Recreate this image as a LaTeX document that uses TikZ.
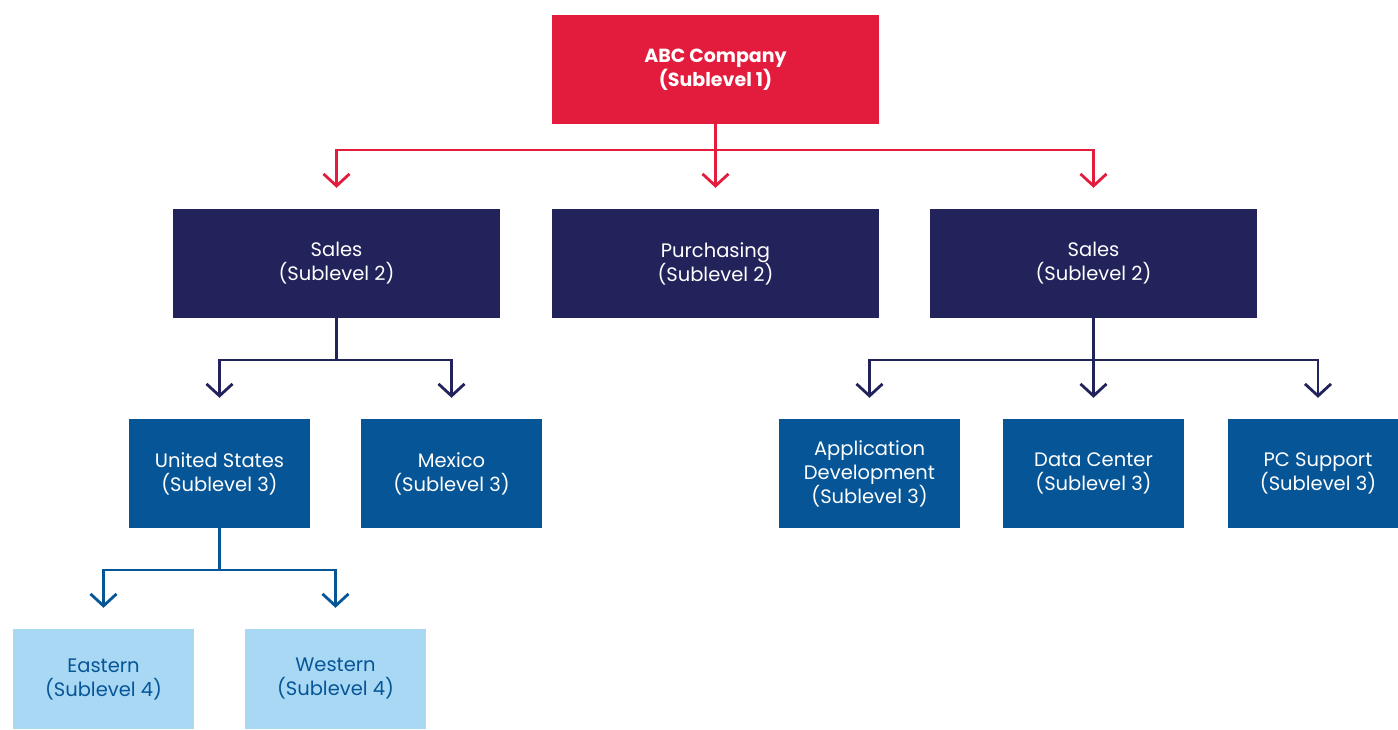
\documentclass[tikz,border=0pt]{standalone}
\usepackage{fontspec}
\setmainfont{Poppins}
\usetikzlibrary{arrows.meta}
\definecolor{topred}{HTML}{E31C3D}
\definecolor{navy}{HTML}{21235A}
\definecolor{midblue}{HTML}{065597}
\definecolor{lightblue}{HTML}{A8D8F4}
\begin{document}
\begin{tikzpicture}[x=1pt,y=-1pt,
  box/.style={minimum height=109pt, inner sep=0pt, align=center,
    font=\fontsize{19.5}{24}\selectfont},
  lvlone/.style={box, fill=topred, text=white, minimum width=327pt,
    font=\fontsize{19}{24}\selectfont\bfseries},
  lvltwo/.style={box, fill=navy, text=white, minimum width=327pt},
  lvlthree/.style={box, fill=midblue, text=white, minimum width=181pt},
  lvlfour/.style={box, fill=lightblue, text=midblue, minimum width=181pt, minimum height=100pt},
  stem/.style={line width=2.8pt},
  link/.style={line width=2.8pt, -{Straight Barb[length=12pt,width=26pt,line width=2.8pt]}}
]
\useasboundingbox (0,0) rectangle (1398,729);
% boxes
\node[lvlone] (abc) at (715.5,69.5) {ABC Company\\(Sublevel 1)};
\node[lvltwo] (salesl) at (336.5,263.5) {Sales\\(Sublevel 2)};
\node[lvltwo] (purch) at (715.5,263.5) {Purchasing\\(Sublevel 2)};
\node[lvltwo] (salesr) at (1093.5,263.5) {Sales\\(Sublevel 2)};
\node[lvlthree] (us) at (219.5,473.5) {United States\\(Sublevel 3)};
\node[lvlthree] (mex) at (451.5,473.5) {Mexico\\(Sublevel 3)};
\node[lvlthree] (app) at (869.5,473.5) {Application\\Development\\(Sublevel 3)};
\node[lvlthree] (dc) at (1093.5,473.5) {Data Center\\(Sublevel 3)};
\node[lvlthree] (pc) at (1318,473.5) {PC Support\\(Sublevel 3)};
\node[lvlfour] (east) at (103.5,679) {Eastern\\(Sublevel 4)};
\node[lvlfour] (west) at (335.5,679) {Western\\(Sublevel 4)};
% junction points
\coordinate (j1) at (715.5,150);
\coordinate (j2) at (336.5,360);
\coordinate (j3) at (1093.5,360);
\coordinate (j4) at (219.5,570);
% level 1 -> level 2
\begin{scope}[topred]
\draw[stem] (abc.south) -- (j1);
\draw[link] (j1) -| ([yshift=21pt]salesl.north);
\draw[link] (j1) -- ([yshift=21pt]purch.north);
\draw[link] (j1) -| ([yshift=21pt]salesr.north);
\end{scope}
% sales -> sublevel 3
\begin{scope}[navy]
\draw[stem] (salesl.south) -- (j2);
\draw[link] (j2) -| ([yshift=21pt]us.north);
\draw[link] (j2) -| ([yshift=21pt]mex.north);
\draw[stem] (salesr.south) -- (j3);
\draw[link] (j3) -| ([yshift=21pt]app.north);
\draw[link] (j3) -- ([yshift=21pt]dc.north);
\draw[link] (j3) -| ([yshift=21pt]pc.north);
\end{scope}
% united states -> regions
\begin{scope}[midblue]
\draw[stem] (us.south) -- (j4);
\draw[link] (j4) -| ([yshift=21pt]east.north);
\draw[link] (j4) -| ([yshift=21pt]west.north);
\end{scope}
\end{tikzpicture}
\end{document}
